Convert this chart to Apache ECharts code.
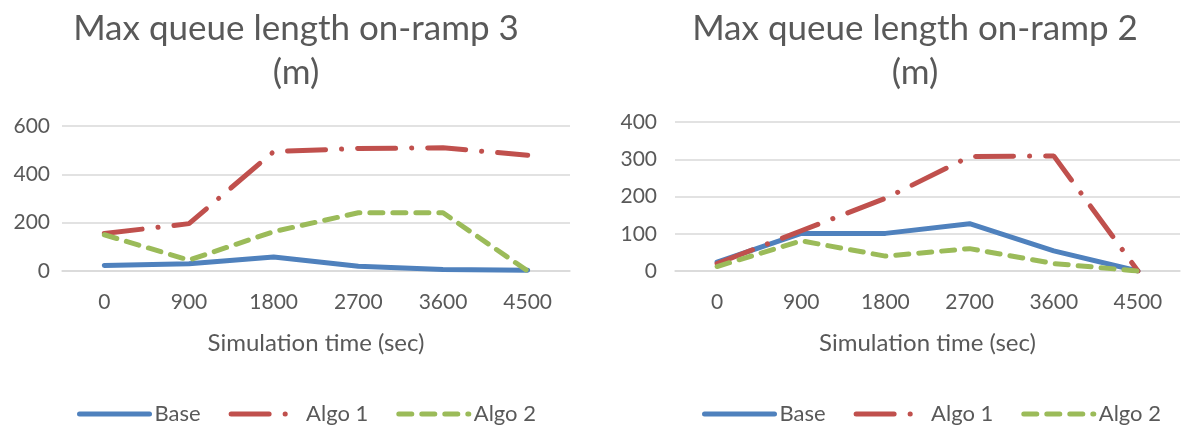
<!DOCTYPE html>
<html><head><meta charset="utf-8">
<script src="https://cdn.jsdelivr.net/npm/echarts@6/dist/echarts.min.js"></script>
<style>html,body{margin:0;padding:0;background:#fff}#c{width:1187px;height:428px}</style>
</head><body><div id="c"></div>
<script>
const categories = ['0','900','1800','2700','3600','4500'];
const ramp3Base  = [23, 30, 58, 20, 6, 3];
const ramp3Algo1 = [155, 196, 494, 507, 510, 479];
const ramp3Algo2 = [150, 45, 163, 241, 241, 0];
const ramp2Base  = [24, 101, 101, 127, 54, 0];
const ramp2Algo1 = [20, 108, 195, 307, 309, 0];
const ramp2Algo2 = [12, 81, 40, 60, 20, 0];
const ramp3Ticks = {min: 0, max: 600, interval: 200};
const ramp2Ticks = {min: 0, max: 400, interval: 100};

const FONT = 'Lato';
const TXT = '#595959';
const BLUE = '#4F81BD', RED = '#C0504D', GREEN = '#9BBB59';

function styles(name){
  if(name==='Base') return {color: BLUE, width: 5, type: 'solid', cap: 'round'};
  if(name==='Algo 1') return {color: RED, width: 5, type: [38, 16, 0.1, 16], cap: 'round'};
  return {color: GREEN, width: 5, type: [13, 10], cap: 'round'};
}
function mk(name, data, idx){
  return {name, type: 'line', data, xAxisIndex: idx, yAxisIndex: idx,
    symbol: 'none', lineStyle: styles(name), itemStyle: {color: styles(name).color},
    animation: false};
}
const xAx = (idx) => ({type: 'category', gridIndex: idx, data: categories, boundaryGap: true,
  axisLine: {show: true, lineStyle: {color: '#D9D9D9', width: 1.5}}, axisTick: {show: false},
  axisLabel: {color: TXT, fontSize: 21, fontFamily: FONT, margin: 21},
  name: 'Simulation time (sec)', nameLocation: 'middle', nameGap: 60,
  nameTextStyle: {color: TXT, fontSize: 24, fontFamily: FONT}});
const yAx = (idx, t, m) => ({type: 'value', gridIndex: idx, min: t.min, max: t.max, interval: t.interval,
  axisLine: {show: false}, axisTick: {show: false},
  splitLine: {lineStyle: {color: '#D9D9D9', width: 1.5}},
  axisLabel: {color: TXT, fontSize: 21, fontFamily: FONT, margin: m}});
const legendItems = ['Base', 'Algo 1', 'Algo 2'];
const legend = (cx) => ({data: legendItems, left: cx, top: 398, itemWidth: 70, itemHeight: 14, itemGap: 28,
  itemStyle: {opacity: 0}, lineStyle: {width: 5},
  textStyle: {color: TXT, fontSize: 22, fontFamily: FONT}, selectedMode: false});

const chart = echarts.init(document.getElementById('c'));
chart.setOption({
  animation: false,
  title: [
    {text: 'Max queue length on-ramp 3\n(m)', left: 291, top: 2, textAlign: 'center',
     textStyle: {color: TXT, fontSize: 35, fontWeight: 'normal', fontFamily: FONT, lineHeight: 44}},
    {text: 'Max queue length on-ramp 2\n(m)', left: 910, top: 2, textAlign: 'center',
     textStyle: {color: TXT, fontSize: 35, fontWeight: 'normal', fontFamily: FONT, lineHeight: 44}}
  ],
  legend: [legend(72), legend(697)],
  grid: [
    {left: 62, top: 126, width: 508, height: 145},
    {left: 675, top: 122, width: 505, height: 149}
  ],
  xAxis: [xAx(0), xAx(1)],
  yAxis: [yAx(0, ramp3Ticks, 12), yAx(1, ramp2Ticks, 18)],
  series: [
    mk('Base', ramp3Base, 0), mk('Algo 1', ramp3Algo1, 0), mk('Algo 2', ramp3Algo2, 0),
    mk('Base', ramp2Base, 1), mk('Algo 1', ramp2Algo1, 1), mk('Algo 2', ramp2Algo2, 1)
  ]
});
</script></body></html>
